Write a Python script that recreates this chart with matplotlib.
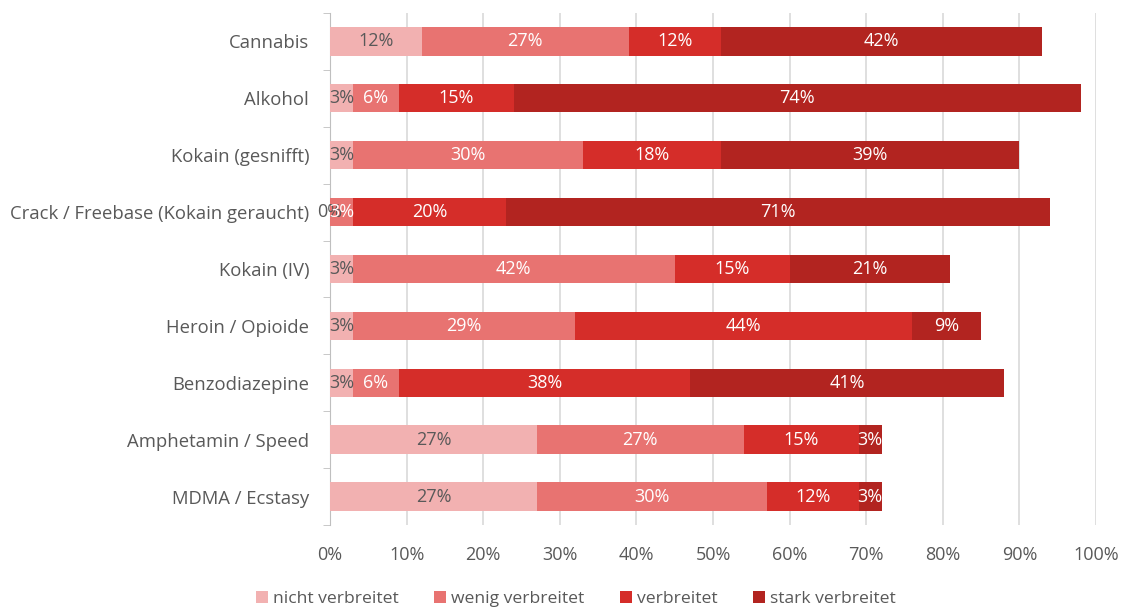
import matplotlib.pyplot as plt
import numpy as np

plt.rcParams['font.family'] = ['Open Sans', 'DejaVu Sans']

kategorien = ["Cannabis", "Alkohol", "Kokain (gesnifft)", "Crack / Freebase (Kokain geraucht)",
              "Kokain (IV)", "Heroin / Opioide", "Benzodiazepine", "Amphetamin / Speed", "MDMA / Ecstasy"]
nicht = [12, 3, 3, 0, 3, 3, 3, 27, 27]
wenig = [27, 6, 30, 3, 42, 29, 6, 27, 30]
verbreitet = [12, 15, 18, 20, 15, 44, 38, 15, 12]
stark = [42, 74, 39, 71, 21, 9, 41, 3, 3]

serien = [("nicht verbreitet", nicht, "#F2B1B1", "#595959"),
          ("wenig verbreitet", wenig, "#E87371", "white"),
          ("verbreitet", verbreitet, "#D52D29", "white"),
          ("stark verbreitet", stark, "#B22420", "white")]

fig = plt.figure(figsize=(11.29, 6.12), dpi=100)
ax = fig.add_axes([0.2923, 0.142, 0.6785, 0.837])

y = np.arange(len(kategorien))
links = np.zeros(len(kategorien))
for name, werte, farbe, textfarbe in serien:
    werte = np.array(werte, dtype=float)
    ax.barh(y, werte, left=links, height=0.5, color=farbe, label=name, zorder=3)
    for yi, l, w in zip(y, links, werte):
        ax.text(l + w / 2, yi, f"{int(w)}%", ha="center", va="center",
                color=textfarbe, fontsize=13, zorder=4)
    links += werte

ax.set_xlim(0, 100)
ax.set_ylim(len(kategorien) - 0.5, -0.5)
ax.set_xticks(np.arange(0, 101, 10))
ax.set_xticklabels([f"{v}%" for v in range(0, 101, 10)])
ax.set_yticks(y)
ax.set_yticklabels(kategorien)
ax.set_yticks(np.arange(-0.5, len(kategorien), 1), minor=True)
ax.tick_params(axis="y", which="major", length=0, pad=15, labelsize=13.3, labelcolor="#595959")
ax.tick_params(axis="y", which="minor", length=5, color="#BFBFBF", direction="out")
ax.tick_params(axis="x", length=0, pad=15, labelsize=13, labelcolor="#595959")
ax.grid(axis="x", color="#D9D9D9", linewidth=1.2, zorder=0)
for s in ["top", "right", "bottom"]:
    ax.spines[s].set_visible(False)
ax.spines["left"].set_color("#BFBFBF")

fig.legend(loc="lower center", ncol=4, frameon=False, fontsize=12.6, bbox_to_anchor=(0.51, -0.018),
           handlelength=0.7, handleheight=0.7, handletextpad=0.3, columnspacing=2.0,
           labelcolor="#595959")

fig.savefig("out.png")
